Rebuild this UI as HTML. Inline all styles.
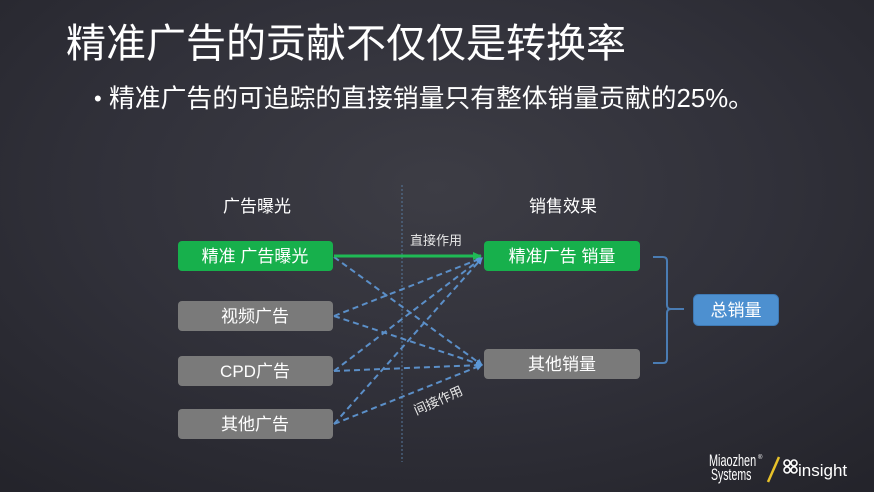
<!DOCTYPE html>
<html><head><meta charset="utf-8"><style>
html,body{margin:0;padding:0}
body{width:874px;height:492px;overflow:hidden;background:radial-gradient(ellipse 75% 80% at 50% 38%,#3d3d45 0%,#31313a 50%,#24242b 100%);font-family:"Liberation Sans","Noto Sans CJK SC",sans-serif}
svg{position:absolute;left:0;top:0}
</style></head><body>
<svg width="874" height="492" viewBox="0 0 874 492" xmlns="http://www.w3.org/2000/svg" font-family="Liberation Sans, Noto Sans CJK SC, sans-serif">
<defs>
<marker id="ab" markerWidth="8" markerHeight="8" refX="6" refY="4" orient="auto" markerUnits="userSpaceOnUse"><path d="M0,0.5 L7,4 L0,7.5 Z" fill="#5b97d6"/></marker>
<marker id="ag" markerWidth="10" markerHeight="10" refX="8" refY="5" orient="auto" markerUnits="userSpaceOnUse"><path d="M0,1 L9,5 L0,9 Z" fill="#1fba55"/></marker>
</defs>
<text x="66" y="57" font-size="40" fill="#ffffff">精准广告的贡献不仅仅是转换率</text>
<text x="94" y="106" font-size="22" fill="#ffffff">•</text>
<text x="109" y="107" font-size="25.8" fill="#ffffff">精准广告的可追踪的直接销量只有整体销量贡献的25%。</text>

<line x1="402" y1="185" x2="402" y2="462" stroke="#56789c" stroke-width="1" stroke-dasharray="2 2"/>

<text x="257" y="212" font-size="17" fill="#ffffff" text-anchor="middle">广告曝光</text>
<text x="563" y="212" font-size="17" fill="#ffffff" text-anchor="middle">销售效果</text>

<rect x="178" y="241" width="155" height="30" rx="4" fill="#17b04c"/>
<rect x="178" y="301" width="155" height="30" rx="4" fill="#7a7a7a"/>
<rect x="178" y="356" width="155" height="30" rx="4" fill="#7a7a7a"/>
<rect x="178" y="409" width="155" height="30" rx="4" fill="#7a7a7a"/>
<rect x="484" y="241" width="156" height="30" rx="4" fill="#17b04c"/>
<rect x="484" y="349" width="156" height="30" rx="4" fill="#7a7a7a"/>
<rect x="693.5" y="294.5" width="85" height="31" rx="5" fill="#4d90d0" stroke="#3f7ab5" stroke-width="1"/>

<g font-size="17" fill="#ffffff" text-anchor="middle">
<text x="255" y="262">精准 广告曝光</text>
<text x="255" y="322">视频广告</text>
<text x="255" y="377">CPD广告</text>
<text x="255" y="430">其他广告</text>
<text x="562" y="262">精准广告 销量</text>
<text x="562" y="370">其他销量</text>
<text x="736" y="316">总销量</text>
</g>

<g stroke="#5b8fc8" stroke-width="2" stroke-dasharray="6 4" fill="none" marker-end="url(#ab)">
<line x1="334" y1="257" x2="482" y2="365"/>
<line x1="334" y1="316" x2="482" y2="258"/>
<line x1="334" y1="316" x2="482" y2="365"/>
<line x1="334" y1="371" x2="482" y2="258"/>
<line x1="334" y1="371" x2="482" y2="365"/>
<line x1="334" y1="424" x2="482" y2="258"/>
<line x1="334" y1="424" x2="482" y2="365"/>
</g>
<line x1="334" y1="256" x2="481" y2="256" stroke="#1fba55" stroke-width="3" marker-end="url(#ag)"/>

<text x="436" y="245" font-size="13" fill="#e8e8e8" text-anchor="middle">直接作用</text>
<text x="438" y="405" font-size="13" fill="#e8e8e8" text-anchor="middle" transform="rotate(-24 438 400)">间接作用</text>

<path d="M653,257 L663,257 Q667,257 667,261 L667,305 Q667,309 671,309 L684,309 M671,309 Q667,309 667,313 L667,359 Q667,363 663,363 L653,363" fill="none" stroke="#4a7cb3" stroke-width="2"/>

<g fill="#ffffff">
<text x="0" y="0" font-size="17" transform="translate(709 466) scale(0.64 1)">Miaozhen</text>
<text x="0" y="0" font-size="6" transform="translate(758 459)">®</text>
<text x="0" y="0" font-size="17" transform="translate(711 480) scale(0.62 1)">Systems</text>
</g>
<line x1="779" y1="457" x2="768" y2="482" stroke="#e8c22a" stroke-width="2.5"/>
<g fill="none" stroke="#ffffff" stroke-width="1.6">
<circle cx="787" cy="463" r="3"/>
<circle cx="794" cy="463" r="3"/>
<circle cx="787" cy="470" r="3"/>
<circle cx="794" cy="470" r="3"/>
</g>
<text x="798" y="476" font-size="17" fill="#ffffff">insight</text>
</svg>
</body></html>
